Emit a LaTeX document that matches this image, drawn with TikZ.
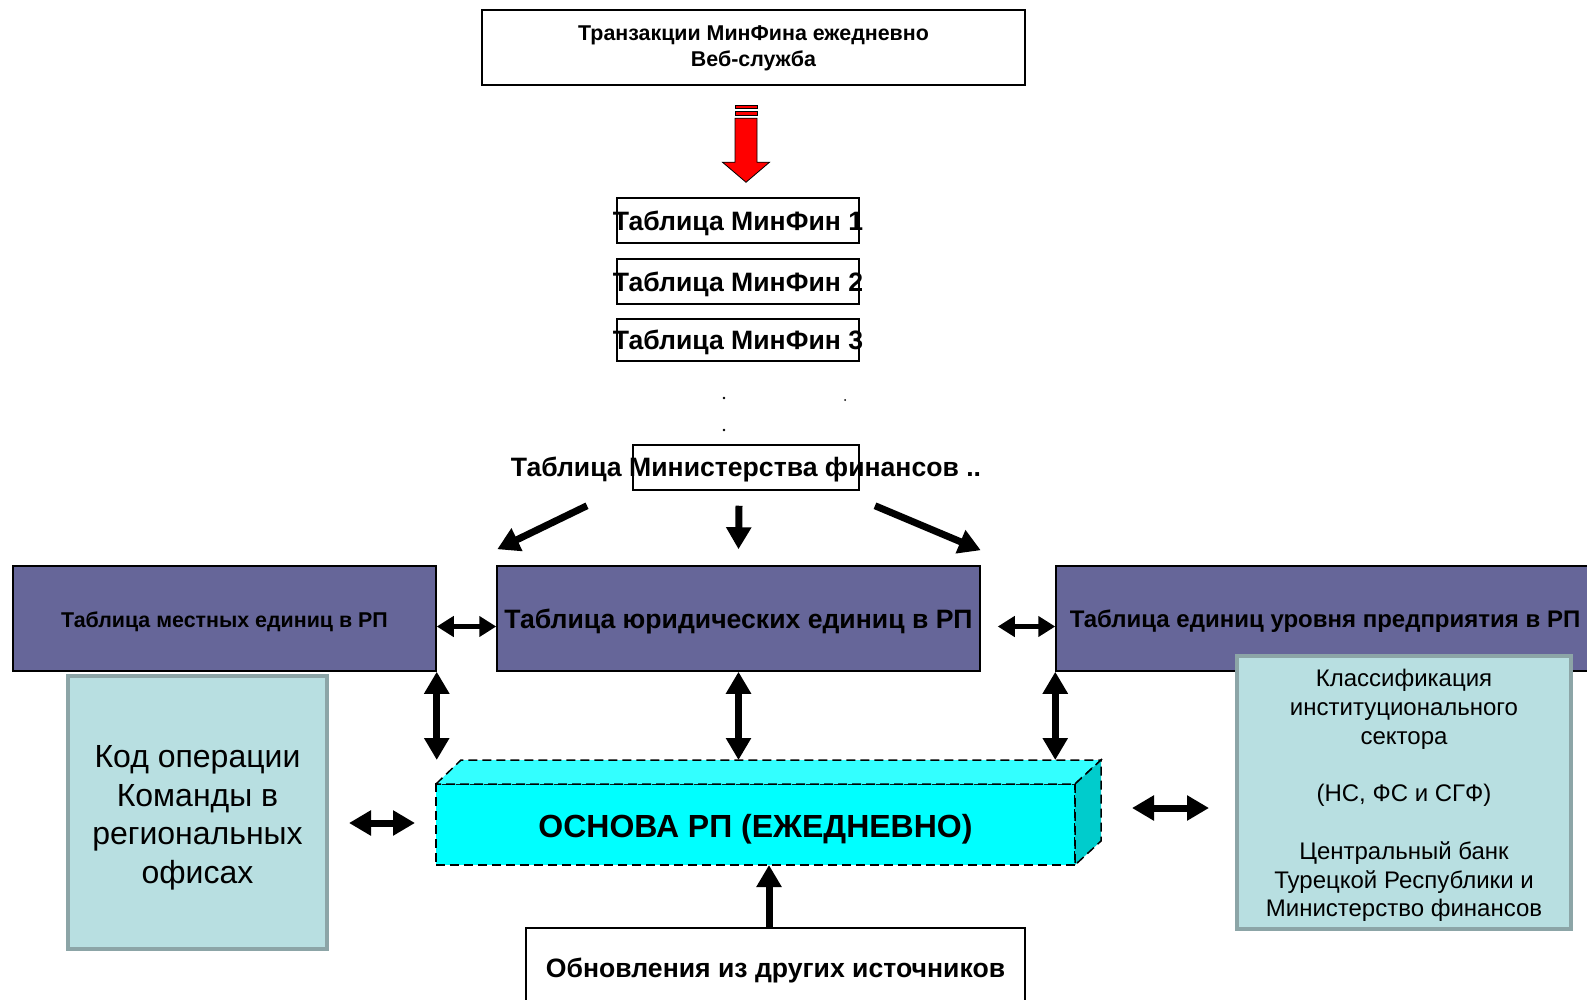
\documentclass[tikz,border=0pt]{standalone}
\usepackage{fontspec}
\setmainfont{Liberation Sans}
\usetikzlibrary{arrows.meta,calc}
\definecolor{rppurple}{HTML}{666699}
\definecolor{tealfill}{HTML}{B8DFE1}
\definecolor{tealedge}{HTML}{8CA5A7}
\definecolor{cyanfront}{HTML}{00FFFF}
\definecolor{cyantop}{HTML}{33FFFF}
\definecolor{cyanside}{HTML}{00CCCC}
\begin{document}
\begin{tikzpicture}[x=1pt,y=-1pt,
 whitebox/.style={draw=black, line width=1.5pt, fill=white, inner sep=0pt},
 purplebox/.style={draw=black, line width=1.5pt, fill=rppurple, inner sep=0pt},
 tealbox/.style={draw=tealedge, line width=4pt, fill=tealfill, inner sep=0pt},
 boxtext/.style={inner sep=0pt, text=black},
 bigarrow/.style={line width=7pt, -{Triangle[length=22pt,width=24pt]}},
 dblarrow/.style={line width=7pt, {Triangle[length=22pt,width=24pt]}-{Triangle[length=22pt,width=24pt]}},
 smallarrow/.style={line width=5.5pt, {Triangle[length=17pt,width=20pt]}-{Triangle[length=17pt,width=20pt]}},
 cubeface/.style={draw=black, line width=1.5pt, dash pattern=on 9pt off 5pt},
]
\useasboundingbox (0,0) rectangle (1587,1000);
\clip (0,0) rectangle (1587,1000);

% top box
\node[whitebox, minimum width=543, minimum height=75] (top) at (753.5,47.5) {};
\node[boxtext, font=\bfseries\fontsize{21.4}{26}\selectfont, align=center] (toptxt) at (753.5,48) {Транзакции МинФина ежедневно\\Веб-служба};

% MinFin tables
\node[whitebox, minimum width=242, minimum height=45] (mf1) at (738,220.5) {};
\node[boxtext, font=\bfseries\fontsize{26.6}{30}\selectfont] (mf1txt) at (738,223) {Таблица МинФин 1};
\node[whitebox, minimum width=242, minimum height=45] (mf2) at (738,281.5) {};
\node[boxtext, font=\bfseries\fontsize{26.6}{30}\selectfont] (mf2txt) at (738,284) {Таблица МинФин 2};
\node[whitebox, minimum width=242, minimum height=42] (mf3) at (738,340) {};
\node[boxtext, font=\bfseries\fontsize{26.6}{30}\selectfont] (mf3txt) at (738,342.5) {Таблица МинФин 3};

% red striped arrow
\coordinate (redtop) at ($(mf1.north)+(8,-92)$);
\begin{scope}[shift={(redtop)}]
 \filldraw[fill=red, draw=black, line width=0.8pt] (-11,0) rectangle (11,3.5);
 \filldraw[fill=red, draw=black, line width=0.8pt] (-11,6.5) rectangle (11,10.5);
 \filldraw[fill=red, draw=black, line width=0.8pt] (-11,13) -- (11,13) -- (11,57) -- (23.5,57) -- (0,77) -- (-23.5,57) -- (-11,57) -- cycle;
\end{scope}

% dots
\fill (724,398) circle (1.4);
\fill (845,400) circle (1);
\fill (724,430) circle (1.4);

% Ministry of finance table
\node[whitebox, minimum width=226, minimum height=45] (mft) at (746,467.5) {};
\node[boxtext, font=\bfseries\fontsize{26.6}{30}\selectfont] (mfttxt) at (746,470) {Таблица Министерства финансов ..};

% purple boxes
\node[purplebox, minimum width=423, minimum height=105] (lp) at (224.5,618.5) {};
\node[boxtext, font=\bfseries\fontsize{21.4}{24}\selectfont] (lptxt) at (224.5,621.5) {Таблица местных единиц в РП};
\node[purplebox, minimum width=483, minimum height=105] (mp) at (738.5,618.5) {};
\node[boxtext, font=\bfseries\fontsize{26.6}{30}\selectfont] (mptxt) at (738.5,621.5) {Таблица юридических единиц в РП};
\node[purplebox, minimum width=538, minimum height=105] (rp) at (1325,618.5) {};
\node[boxtext, font=\bfseries\fontsize{24}{28}\selectfont] (rptxt) at (1325,621.5) {Таблица единиц уровня предприятия в РП};

% teal boxes
\node[tealbox, minimum width=259, minimum height=273] (lt) at (197.5,812.5) {};
\node[boxtext, align=center, font=\fontsize{32}{38.5}\selectfont] (lttxt) at (197.5,818) {Код операции\\Команды в\\региональных\\офисах};
\node[tealbox, minimum width=334, minimum height=273] (rt) at (1404,792.5) {};
\node[boxtext, align=center, font=\fontsize{24}{28.8}\selectfont] (rttxt) at (1404,795.5) {Классификация\\институционального\\сектора\\[28.8pt](НС, ФС и СГФ)\\[28.8pt]Центральный банк\\Турецкой Республики и\\Министерство финансов};

% cyan base block
\node[cubeface, fill=cyanfront, outer sep=0pt, inner sep=0pt, minimum width=639, minimum height=81] (base) at (755.5,824.5) {};
\filldraw[cubeface, fill=cyantop] (base.north west) -- ++(25,-24) -- ($(base.north east)+(26,-24)$) -- (base.north east) -- cycle;
\filldraw[cubeface, fill=cyanside] (base.north east) -- ++(26,-24) -- ++(0,81) -- (base.south east) -- cycle;
\node[boxtext, font=\bfseries\fontsize{32}{36}\selectfont] (basetxt) at (755.5,829) {ОСНОВА РП (ЕЖЕДНЕВНО)};
\coordinate (backedge) at ($(base.north)+(0,-24)$);

% bottom box
\node[whitebox, minimum width=499, minimum height=80] (bot) at (775.5,968) {};
\node[boxtext, font=\bfseries\fontsize{26.6}{30}\selectfont] (bottxt) at (775.5,970) {Обновления из других источников};

% arrows from ministry table
\draw[bigarrow] ($(mft.south)+(-159,15)$) -- ($(mp.north west)+(1,-16)$);
\draw[bigarrow] ($(mft.south)+(-7,15)$) -- ($(mp.north)+(0,-16)$);
\draw[bigarrow] ($(mft.south)+(129,15)$) -- ($(mp.north east)+(0,-15)$);

% horizontal arrows between purple boxes
\draw[smallarrow] ($(lp.east)+(0,8)$) -- ($(mp.west)+(0,8)$);
\draw[smallarrow] ($(mp.east)+(17,8)$) -- ($(rp.west)+(0,8)$);

% vertical arrows to base
\draw[dblarrow] (lp.south east) -- (lp.south east |- backedge);
\draw[dblarrow] (mp.south) -- (mp.south |- backedge);
\draw[dblarrow] (rp.south west) -- (rp.south west |- backedge);

% teal arrows
\coordinate (la1) at ($(lt.east)+(20,10.5)$);
\coordinate (la2) at ($(base.west)+(-21,-1.5)$);
\draw[dblarrow] (la1) -- (la2);
\coordinate (ra1) at ($(rt.west)+(-103,15.5)$);
\coordinate (ra2) at ($(rt.west)+(-26,15.5)$);
\draw[dblarrow] (ra1) -- (ra2);

% up arrow
\coordinate (ua) at ($(bot.north)+(-6.5,0)$);
\draw[bigarrow] (ua) -- (ua |- base.south);
\end{tikzpicture}
\end{document}
